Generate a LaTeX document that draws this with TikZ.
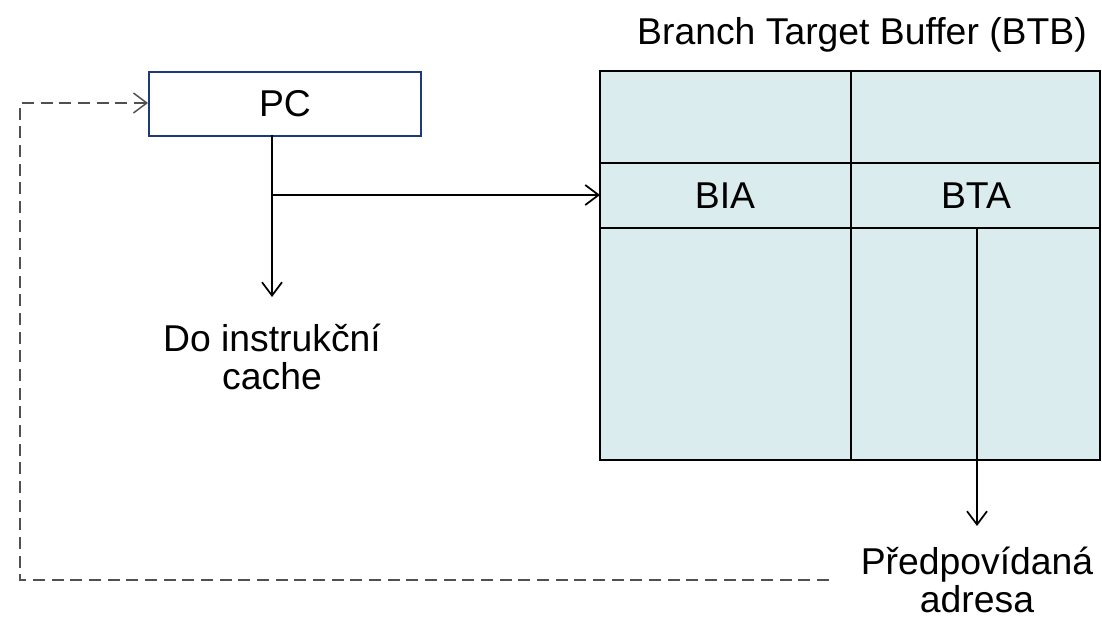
\documentclass[tikz,border=0pt]{standalone}
\usepackage{fontspec}
\setmainfont{Liberation Sans}
\usetikzlibrary{arrows.meta}
\definecolor{btbfill}{HTML}{DAECEE}
\definecolor{pcborder}{HTML}{1F3A7A}
\definecolor{dashgray}{HTML}{505050}
\begin{document}
\begin{tikzpicture}[x=0.75pt,y=-0.75pt,
  lbl/.style={font=\fontsize{28}{29}\selectfont, text=black, inner sep=0pt, align=center},
  conn/.style={draw=black, line width=1.5pt, -{Straight Barb[length=10pt,width=15pt,line width=1.3pt]}},
  feedback/.style={draw=dashgray, line width=1pt, dash pattern=on 9pt off 5pt, -{Straight Barb[length=10pt,width=15pt,line width=1.1pt]}},
  cell/.style={draw=black, line width=1.5pt}]
\useasboundingbox (0,0) rectangle (1102,623);
% PC box
\node[draw=pcborder, fill=white, line width=1.5pt, minimum width=272*0.75pt, minimum height=64*0.75pt, inner sep=0pt, anchor=north west] (pc) at (148,71) {};
\node[lbl] (pctext) at (pc.center) {PC};
% BTB
\fill[btbfill] (600,71) rectangle (1100,460);
\coordinate (btbnw) at (600,71);
\coordinate (btbse) at (1100,460);
\draw[cell] (600,163) -- (1100,163);
\draw[cell] (600,228) -- (1100,228);
\draw[cell] (851,71) -- (851,460);
\draw[cell] (btbnw) rectangle (btbse);
\node[lbl] (title) at (862,35) {Branch Target Buffer (BTB)};
\node[lbl] (bia) at (725,196) {BIA};
\node[lbl] (bta) at (976,196) {BTA};
\coordinate (biain) at (600,195);
\coordinate (btaout) at (977,228);
% texts
\node[lbl] (cache) at (272,357) {Do instrukční\\cache};
\node[lbl] (pred) at (977,580) {Předpovídaná\\adresa};
% connectors
\coordinate (pcout) at (272,135);
\coordinate (split) at (272,195);
\draw[conn] (pcout) -- (272,297);
\draw[conn] (split) -- (biain);
\draw[conn] (btaout) -- (977,526);
\coordinate (fbstart) at (829,580);
\draw[feedback] (fbstart) -- (20,580) -- (20,103) -- (pc.west |- 0,103);
\end{tikzpicture}
\end{document}
